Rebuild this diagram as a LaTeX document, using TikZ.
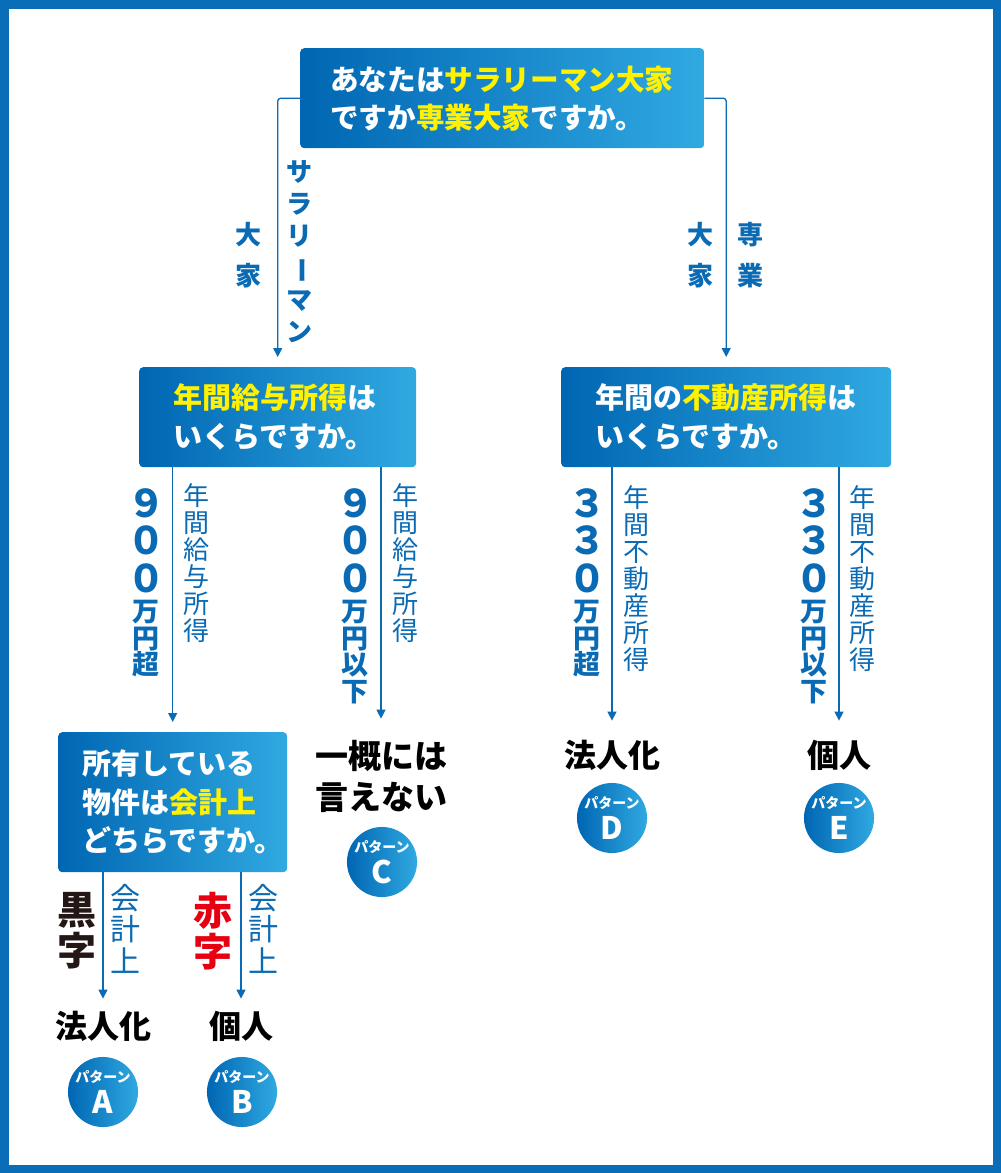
\documentclass[tikz,border=0pt]{standalone}
\usepackage{fontspec}
\usepackage{graphicx}
\setmainfont{Noto Sans CJK JP}
\usetikzlibrary{arrows.meta,calc}
\definecolor{framec}{HTML}{0A6DB8}
\definecolor{dk}{HTML}{0066B3}
\definecolor{lt}{HTML}{30A9E1}
\definecolor{yel}{HTML}{FFF100}
\definecolor{lab}{HTML}{0A6AB4}
\definecolor{kuro}{HTML}{231815}
\definecolor{aka}{HTML}{E60012}
\newcommand{\fs}[2]{\fontsize{#1}{#2}\selectfont\lineskiplimit=-50pt\relax}
\begin{document}
\begin{tikzpicture}[x=1pt,y=-1pt,
  qbox/.style={rectangle, rounded corners=4pt, left color=dk, right color=lt, text=white,
    font=\bfseries\fs{29}{38.5}, align=left, inner ysep=0pt, anchor=north west},
  conn/.style={draw=lab, line width=1.3pt, -{Triangle[width=9pt,length=9pt]}},
  vlab/.style={text=lab, align=center, inner sep=0pt, anchor=north},
  numlab/.style={vlab, font=\bfseries\fs{38}{37.5}},
  unitlab/.style={vlab, font=\bfseries\fs{27}{26.5}},
  thinlab/.style={vlab, font=\fs{26}{27}},
  ans/.style={text=black, font=\bfseries\fs{32}{41}, align=center, inner sep=0pt},
  pat/.style={circle, minimum size=70pt, inner sep=0pt, left color=dk, right color=lt,
    text=white, align=center, font=\bfseries\fs{31}{31}}
]
\useasboundingbox (0,0) rectangle (1001,1173);
\draw[framec, line width=8.5pt] (4.25,4.25) rectangle (996.75,1168.75);

% question boxes
\node[qbox, minimum width=404pt, minimum height=100pt, text width=344pt, inner xsep=30pt, font=\bfseries\fs{28.6}{38}] (top) at (300,48)
  {あなたは\textcolor{yel}{サラリーマン大家}\\ですか\textcolor{yel}{専業大家}ですか。};
\node[qbox, minimum width=277pt, minimum height=100pt, text width=209pt, inner xsep=34pt] (b2) at (139,367)
  {\textcolor{yel}{年間給与所得}は\\いくらですか。};
\node[qbox, minimum width=330pt, minimum height=100pt, text width=262pt, inner xsep=34pt] (b3) at (561,367)
  {年間の\textcolor{yel}{不動産所得}は\\いくらですか。};
\node[qbox, minimum width=229pt, minimum height=140pt, text width=181pt, inner xsep=24pt] (b4) at (58,732)
  {所有している\\物件は\textcolor{yel}{会計上}\\どちらですか。};

% answers
\node[ans, font=\bfseries\fs{33}{41}] (ansC) at (381,776) {一概には\\言えない};
\node[ans] (ansA) at (103,1026) {法人化};
\node[ans] (ansB) at (241,1026) {個人};
\node[ans] (ansD) at (612,755) {法人化};
\node[ans] (ansE) at (839,755) {個人};

% pattern circles
\node[pat] (pC) at (382,862) {{\fs{14}{14}パターン}\\C};
\node[pat] (pA) at (103,1092) {{\fs{14}{14}パターン}\\A};
\node[pat] (pB) at (242,1092) {{\fs{14}{14}パターン}\\B};
\node[pat] (pD) at (612,818) {{\fs{14}{14}パターン}\\D};
\node[pat] (pE) at (839,818) {{\fs{14}{14}パターン}\\E};

% connectors
\draw[conn, rounded corners=3pt, shorten >=10pt] (top.west) -| (b2.north);
\draw[conn, rounded corners=3pt, shorten >=10pt] (top.east) -| (b3.north);
\draw[conn, shorten >=10pt] (b2.south -| b4.north) -- (b4.north);
\draw[conn, shorten >=21pt] (b2.south -| ansC.north) -- (ansC.north);
\draw[conn, shorten >=19pt] (b3.south -| ansD.north) -- (ansD.north);
\draw[conn, shorten >=19pt] (b3.south -| ansE.north) -- (ansE.north);
\draw[conn, shorten >=12pt] (b4.south -| ansA.north) -- (ansA.north);
\draw[conn, shorten >=12pt] (b4.south -| ansB.north) -- (ansB.north);

% top branch labels
\node[vlab, font=\bfseries\fs{26}{32}] (lsal) at (299,160) {サ\\ラ\\リ\\\rotatebox[origin=c]{-90}{ー}\\マ\\ン};
\node[vlab, font=\bfseries\fs{26}{41}] (lda) at (248,222) {大\\家};
\node[vlab, font=\bfseries\fs{26}{41}] (rsen) at (750,222) {専\\業};
\node[vlab, font=\bfseries\fs{26}{41}] (rda) at (700,222) {大\\家};

% salary labels
\node[numlab] (n1) at (146,488) {９\\０\\０};
\node[unitlab] (u1) at (146,600) {万\\円\\超};
\node[thinlab] (t1) at (196,483) {年\\間\\給\\与\\所\\得};
\node[numlab] (n2) at (355,488) {９\\０\\０};
\node[unitlab] (u2) at (355,600) {万\\円\\以\\下};
\node[thinlab] (t2) at (405,483) {年\\間\\給\\与\\所\\得};

% real estate labels
\node[numlab] (n3) at (587,488) {３\\３\\０};
\node[unitlab] (u3) at (587,600) {万\\円\\超};
\node[thinlab] (t3) at (636,485) {年\\間\\不\\動\\産\\所\\得};
\node[numlab] (n4) at (814,488) {３\\３\\０};
\node[unitlab] (u4) at (814,600) {万\\円\\以\\下};
\node[thinlab] (t4) at (862,485) {年\\間\\不\\動\\産\\所\\得};

% accounting labels
\node[vlab, text=kuro, font=\bfseries\fs{39}{41}] (kuro) at (77,892) {黒\\字};
\node[vlab, font=\fs{30}{31.5}] (k1) at (125,884) {会\\計\\上};
\node[vlab, text=aka, font=\bfseries\fs{39}{41}] (aka) at (213,892) {赤\\字};
\node[vlab, font=\fs{30}{31.5}] (k2) at (263,884) {会\\計\\上};
\end{tikzpicture}
\end{document}
